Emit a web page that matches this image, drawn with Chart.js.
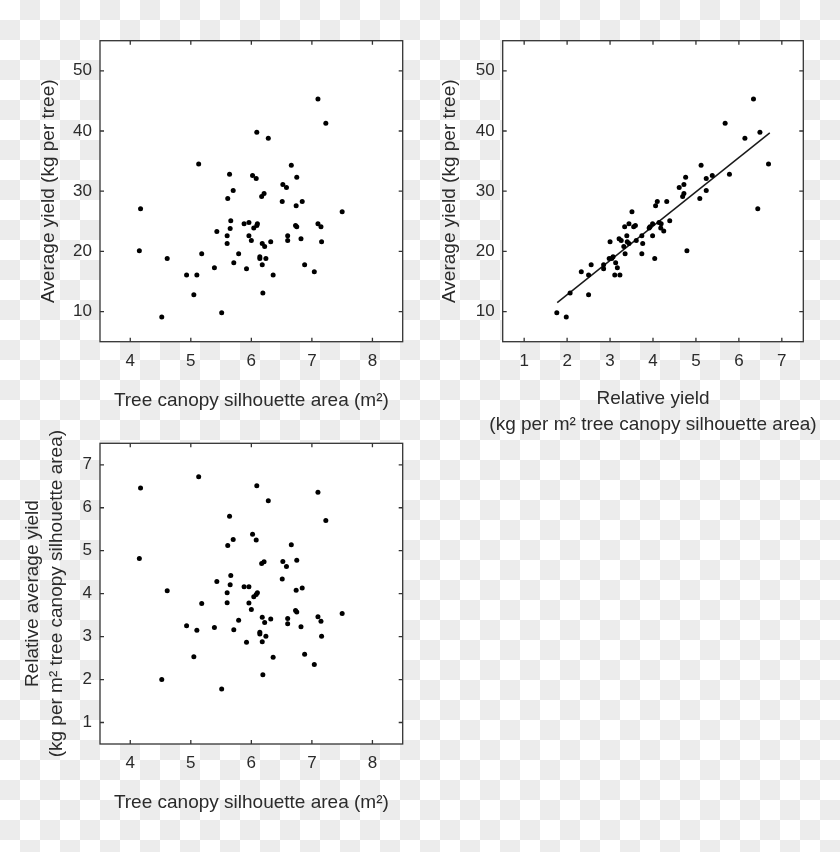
<!DOCTYPE html>
<html>
<head>
<meta charset="utf-8">
<script src="https://cdn.jsdelivr.net/npm/chart.js@4.4.1/dist/chart.umd.min.js"></script>
<style>
    html, body { margin: 0; padding: 0; }
    body {
        width: 840px; height: 852px; position: relative; overflow: hidden;
        background: repeating-conic-gradient(#ececec 0 25%, #ffffff 0 50%) 0 0 / 40px 40px;
    }
    canvas { position: absolute; }
    #grafica1 { left: 0; top: 0; }
    #grafica2 { left: 420px; top: 0; }
    #grafica3 { left: 0; top: 420px; }
</style>
</head>
<body>
<canvas id="grafica1" width="420" height="420"></canvas>
<canvas id="grafica2" width="420" height="450"></canvas>
<canvas id="grafica3" width="420" height="432"></canvas>
<script>
// Ticks de cada eje
const ticksArea = [4, 5, 6, 7, 8];
const ticksRend = [10, 20, 30, 40, 50];
const ticksRel = [1, 2, 3, 4, 5, 6, 7];

// Grafica 1: area de copa vs rendimiento promedio
const areaCopa1 = [7.10, 7.23, 6.09, 6.28, 5.13, 6.66, 5.64, 6.02, 6.08, 6.75, 6.52, 6.58, 5.70, 6.21, 6.17, 5.61,
    6.51, 6.84, 6.74, 4.17, 7.50, 5.66, 5.88, 5.96, 6.10, 6.09, 6.04, 5.65, 6.73, 6.75, 7.10, 7.15, 5.43, 5.60, 5.96,
    6.00, 5.60, 6.60, 6.60, 6.82, 7.16, 6.18, 6.32, 6.22, 4.15, 5.18, 5.79, 4.61, 6.14, 6.14, 6.24, 5.71, 5.39, 5.92,
    6.18, 6.88, 7.04, 4.93, 5.10, 6.36, 5.05, 6.19, 5.51, 4.52];
const rendimiento1 = [45.3, 41.3, 39.8, 38.8, 34.5, 34.3, 32.8, 32.6, 32.1, 32.3, 31.1, 30.6, 30.1, 29.6, 29.1, 28.8,
    28.3, 28.3, 27.6, 27.1, 26.6, 25.1, 24.6, 24.8, 24.6, 24.3, 23.9, 23.8, 24.3, 24.1, 24.6, 24.1, 23.3, 22.6, 22.6,
    21.8, 21.3, 22.6, 21.8, 22.1, 21.6, 21.3, 21.6, 20.8, 20.1, 19.6, 19.6, 18.8, 19.1, 18.8, 18.8, 18.1, 17.3, 17.1,
    17.8, 17.8, 16.6, 16.1, 16.1, 16.1, 12.8, 13.1, 9.8, 9.1];

// Grafica 2: rendimiento relativo vs rendimiento promedio
const rendRelativo2 = [6.34, 5.68, 6.49, 6.14, 6.69, 5.12, 4.76, 5.38, 5.24, 5.78, 4.61, 4.72, 5.24, 4.72, 4.69, 5.09,
    4.10, 4.32, 4.06, 6.44, 3.51, 4.39, 3.44, 3.99, 4.14, 3.34, 3.55, 3.59, 3.91, 4.18, 4.25, 3.93, 3.99, 3.21, 3.74,
    3.39, 3.26, 3.00, 3.61, 3.40, 3.76, 3.44, 3.32, 4.79, 3.35, 3.74, 2.98, 3.07, 4.04, 3.13, 2.85, 2.56, 2.85, 3.17,
    2.33, 2.50, 3.11, 3.23, 2.07, 2.50, 1.76, 1.98, 4.19, 3.04];
const rendimiento2 = [45.3, 41.3, 39.8, 38.8, 34.5, 34.3, 32.3, 32.6, 32.1, 32.8, 30.6, 31.1, 30.1, 29.6, 29.1, 28.8,
    28.3, 28.3, 27.6, 27.1, 26.6, 25.1, 24.6, 24.6, 24.8, 24.1, 24.1, 24.3, 23.9, 23.9, 23.4, 24.1, 22.6, 22.1, 22.6,
    22.6, 21.8, 21.6, 21.8, 21.6, 21.3, 21.3, 20.8, 20.1, 19.6, 19.6, 18.8, 19.1, 18.8, 18.1, 17.8, 17.8, 17.1, 17.3,
    16.6, 16.1, 16.1, 16.1, 13.1, 12.8, 9.8, 9.1, 24.6, 18.8];
const ajusteX = [1.77, 6.72];
const ajusteY = [11.5, 39.7];

// Grafica 3: area de copa vs rendimiento relativo
const areaCopa3 = [5.13, 4.17, 6.09, 7.10, 6.28, 5.64, 7.23, 6.02, 5.70, 6.08, 5.61, 6.66, 4.15, 6.17, 6.21, 6.52,
    6.75, 6.58, 5.66, 5.43, 6.51, 5.65, 5.88, 5.96, 6.84, 4.61, 6.74, 5.60, 6.10, 6.08, 6.04, 5.60, 5.18, 5.96, 6.00,
    7.50, 6.73, 6.75, 7.10, 7.15, 6.18, 6.32, 6.60, 6.22, 6.60, 5.79, 4.93, 5.39, 5.71, 5.10, 6.82, 6.14, 6.14, 6.24,
    7.16, 5.92, 6.18, 6.88, 5.05, 6.36, 7.04, 6.19, 4.52, 5.51];
const rendRelativo3 = [6.72, 6.46, 6.51, 6.36, 6.16, 5.80, 5.70, 5.38, 5.26, 5.25, 5.12, 5.14, 4.82, 4.70, 4.74, 4.75,
    4.78, 4.63, 4.42, 4.28, 4.34, 4.21, 4.16, 4.16, 4.13, 4.07, 4.08, 4.02, 4.02, 3.98, 3.93, 3.79, 3.77, 3.78, 3.63,
    3.54, 3.61, 3.57, 3.46, 3.36, 3.45, 3.41, 3.42, 3.33, 3.30, 3.38, 3.25, 3.21, 3.16, 3.15, 3.23, 3.10, 3.06, 3.01,
    3.01, 2.87, 2.88, 2.59, 2.53, 2.52, 2.35, 2.11, 2.00, 1.78];

const fuente = '"Liberation Sans", Arial, sans-serif';
const colorTexto = '#2b2b2b';

const aPuntos = (xs, ys) => xs.map((x, i) => ({ x: x, y: ys[i] }));

const puntos = (xs, ys) => ({
    data: aPuntos(xs, ys),
    pointRadius: 2.5,
    pointHoverRadius: 2.5,
    backgroundColor: '#000000',
    borderWidth: 0
});

// Fondo blanco, marco y ticks hacia adentro en los cuatro lados
const marcoPlugin = {
    id: 'marco',
    beforeDraw(chart) {
        const { ctx, chartArea: a } = chart;
        ctx.save();
        ctx.fillStyle = '#ffffff';
        ctx.fillRect(a.left, a.top, a.right - a.left, a.bottom - a.top);
        ctx.restore();
    },
    afterDraw(chart) {
        const { ctx, chartArea: a, scales } = chart;
        const largo = 4;
        ctx.save();
        ctx.strokeStyle = '#333333';
        ctx.lineWidth = 1.3;
        ctx.beginPath();
        scales.x.ticks.forEach(t => {
            const px = scales.x.getPixelForValue(t.value);
            ctx.moveTo(px, a.bottom);
            ctx.lineTo(px, a.bottom - largo);
            ctx.moveTo(px, a.top);
            ctx.lineTo(px, a.top + largo);
        });
        scales.y.ticks.forEach(t => {
            const py = scales.y.getPixelForValue(t.value);
            ctx.moveTo(a.left, py);
            ctx.lineTo(a.left + largo, py);
            ctx.moveTo(a.right, py);
            ctx.lineTo(a.right - largo, py);
        });
        ctx.stroke();
        ctx.strokeRect(a.left, a.top, a.right - a.left, a.bottom - a.top);
        ctx.restore();
    }
};

// Titulos de dos lineas: el titulo de Chart.js los comprime al ancho del eje
const tituloPlugin = {
    id: 'tituloLargo',
    afterDraw(chart, args, opts) {
        if (!opts.lineas) return;
        const { ctx, chartArea: a } = chart;
        ctx.save();
        ctx.fillStyle = colorTexto;
        ctx.font = `19px ${fuente}`;
        ctx.textAlign = 'center';
        ctx.textBaseline = 'middle';
        opts.lineas.forEach((texto, i) => {
            const pos = opts.posiciones[i];
            if (opts.eje === 'x') {
                ctx.fillText(texto, (a.left + a.right) / 2, pos);
            } else {
                ctx.save();
                ctx.translate(pos, (a.top + a.bottom) / 2);
                ctx.rotate(-Math.PI / 2);
                ctx.fillText(texto, 0, 0);
                ctx.restore();
            }
        });
        ctx.restore();
    }
};

const crearGrafica = (canvasId, c) => {
    new Chart(document.getElementById(canvasId), {
        type: 'scatter',
        data: { datasets: c.datasets },
        options: {
            responsive: false,
            animation: false,
            events: [],
            layout: { padding: c.padding },
            plugins: {
                legend: { display: false },
                tooltip: { enabled: false },
                tituloLargo: c.tituloLargo || {}
            },
            scales: {
                x: {
                    type: 'linear',
                    min: c.xMin,
                    max: c.xMax,
                    afterBuildTicks: s => { s.ticks = c.xTicks.map(v => ({ value: v })); },
                    afterFit: s => { s.height = c.altoX; },
                    grid: { display: false, drawTicks: false },
                    border: { display: false },
                    ticks: { color: colorTexto, font: { family: fuente, size: 17 }, padding: 9, maxRotation: 0 },
                    title: {
                        display: !!c.tituloX, text: c.tituloX, color: colorTexto,
                        font: { family: fuente, size: 19, lineHeight: '24px' },
                        padding: { top: 0, bottom: c.padTituloX }
                    }
                },
                y: {
                    type: 'linear',
                    min: c.yMin,
                    max: c.yMax,
                    afterBuildTicks: s => { s.ticks = c.yTicks.map(v => ({ value: v })); },
                    afterFit: s => { s.width = c.anchoY; },
                    grid: { display: false, drawTicks: false },
                    border: { display: false },
                    ticks: { color: colorTexto, font: { family: fuente, size: 17 }, padding: 8 },
                    title: {
                        display: !!c.tituloY, text: c.tituloY, color: colorTexto,
                        font: { family: fuente, size: 19, lineHeight: '24px' },
                        padding: { top: c.padTituloY, bottom: 0 }
                    }
                }
            }
        },
        plugins: [marcoPlugin, tituloPlugin]
    });
};

crearGrafica('grafica1', {
    datasets: [puntos(areaCopa1, rendimiento1)],
    padding: { left: 0, top: 40.7, right: 17.3, bottom: 0 },
    xMin: 3.5, xMax: 8.5, xTicks: ticksArea,
    yMin: 5, yMax: 55, yTicks: ticksRend,
    altoX: 78.3, anchoY: 100,
    tituloX: 'Tree canopy silhouette area (m²)', padTituloX: 7.3,
    tituloY: 'Average yield (kg per tree)', padTituloY: 36.3
});

crearGrafica('grafica2', {
    datasets: [
        puntos(rendRelativo2, rendimiento2),
        {
            data: aPuntos(ajusteX, ajusteY),
            showLine: true,
            pointRadius: 0,
            borderColor: '#1a1a1a',
            borderWidth: 1.5,
            fill: false
        }
    ],
    padding: { left: 0, top: 40.7, right: 36.7, bottom: 0 },
    xMin: 0.5, xMax: 7.5, xTicks: ticksRel,
    yMin: 5, yMax: 55, yTicks: ticksRend,
    altoX: 108.3, anchoY: 82.7,
    tituloLargo: {
        eje: 'x',
        lineas: ['Relative yield', '(kg per m² tree canopy silhouette area)'],
        posiciones: [398.3, 425]
    },
    tituloY: 'Average yield (kg per tree)', padTituloY: 18
});

crearGrafica('grafica3', {
    datasets: [puntos(areaCopa3, rendRelativo3)],
    padding: { left: 0, top: 23.3, right: 17.3, bottom: 0 },
    xMin: 3.5, xMax: 8.5, xTicks: ticksArea,
    yMin: 0.5, yMax: 7.5, yTicks: ticksRel,
    altoX: 108, anchoY: 100,
    tituloX: 'Tree canopy silhouette area (m²)', padTituloX: 37,
    tituloLargo: {
        eje: 'y',
        lineas: ['Relative average yield', '(kg per m² tree canopy silhouette area)'],
        posiciones: [32.7, 56.7]
    }
});
</script>
</body>
</html>
